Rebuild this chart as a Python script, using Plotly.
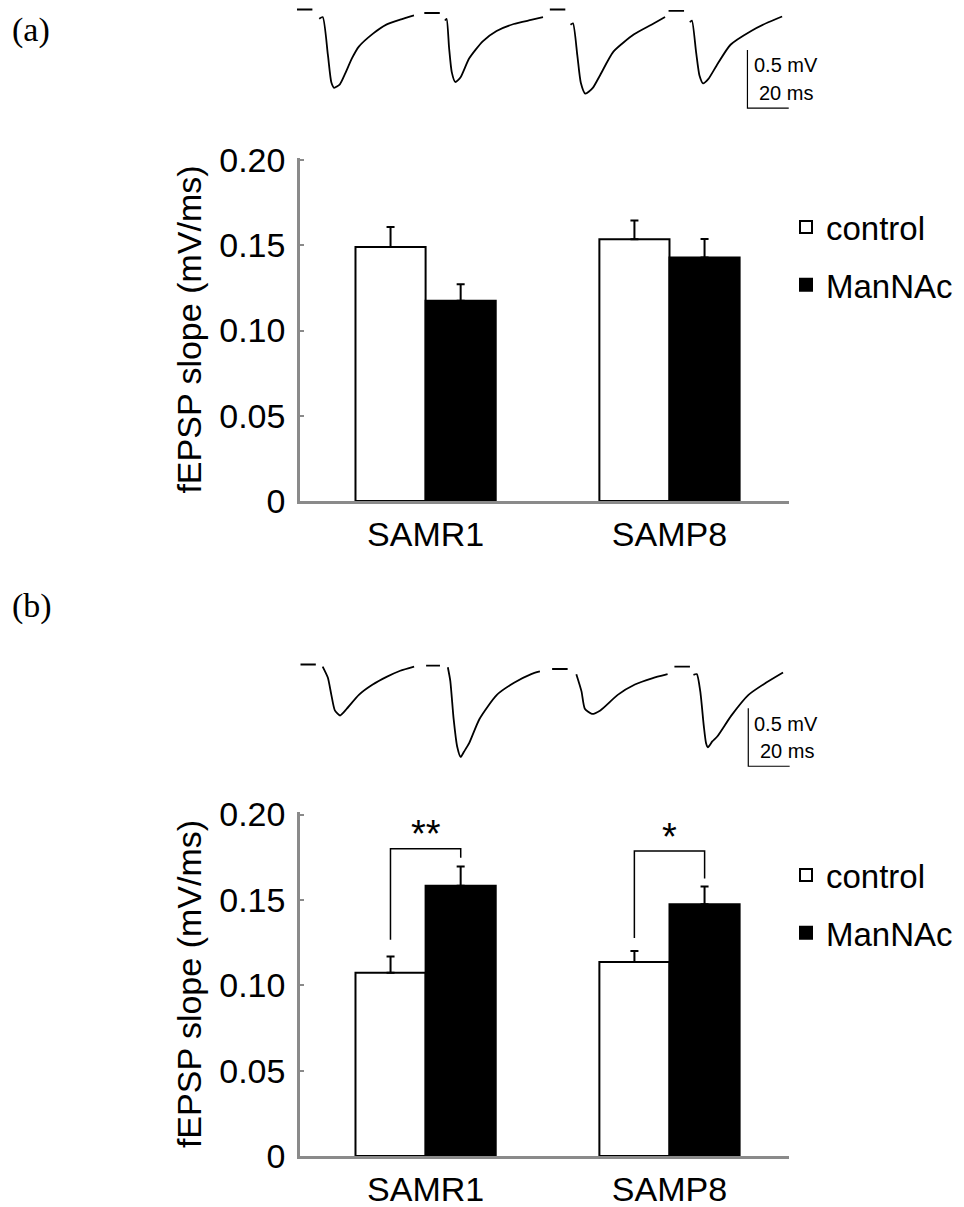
import plotly.graph_objects as go

# ---------------- data ----------------
groups = ["SAMR1", "SAMP8"]

# panel (a)
ctrl_a = [0.149, 0.1535]
ctrl_a_err = [0.0117, 0.0110]
man_a = [0.1174, 0.1429]
man_a_err = [0.0097, 0.0108]

# panel (b)
ctrl_b = [0.1073, 0.1137]
ctrl_b_err = [0.0095, 0.0064]
man_b = [0.1583, 0.1474]
man_b_err = [0.0113, 0.0105]

# significance brackets in panel (b)
sig_labels = ["**", "*"]
bracket_left = [0.1266, 0.1277]
bracket_top = [0.1800, 0.1786]
bracket_right = [0.1747, 0.1626]

y_ticks = [0, 0.05, 0.10, 0.15, 0.20]
y_ticktext = ["0", "0.05", "0.10", "0.15", "0.20"]

# example fEPSP sweeps (time in ms, voltage in mV); None = blanked stimulus artifact
sweeps_a_t = [
    [0, 7.5, None, 10.8, 12.5, 15.0, 16.7, 18.0, 20.8, 23.3, 26.7, 30.0, 36.7, 43.3, 50.0, 56.7],
    [0, 7.5, None, 10.0, 10.8, 12.0, 13.3, 15.0, 17.5, 21.7, 28.3, 35.0, 43.3, 51.7, 57.5],
    [0, 7.5, None, 10.0, 11.2, 13.3, 15.0, 17.2, 20.8, 24.2, 30.8, 40.8, 49.2, 55.8],
    [0, 7.5, None, 10.3, 11.3, 13.3, 15.0, 16.7, 19.2, 23.3, 30.0, 40.0, 48.3, 55.0],
]
sweeps_a_v = [
    [0, 0, None, -0.080, -0.065, -0.390, -0.630, -0.675, -0.645, -0.556, -0.420, -0.320, -0.210, -0.130, -0.087, -0.050],
    [0, 0, None, -0.065, -0.050, -0.300, -0.510, -0.595, -0.557, -0.393, -0.244, -0.155, -0.095, -0.060, -0.036],
    [0, 0, None, -0.131, -0.119, -0.393, -0.631, -0.726, -0.676, -0.571, -0.363, -0.214, -0.131, -0.065],
    [0, 0, None, -0.098, -0.083, -0.351, -0.560, -0.625, -0.589, -0.470, -0.292, -0.173, -0.098, -0.048],
]
sweeps_a_t0 = [0, 61.7, 122.5, 180.0]
sweeps_a_base = [0, -0.030, 0, -0.012]

sweeps_b_t = [
    [0, 7.5, None, 10.8, 13.3, 15.0, 16.7, 19.2, 22.5, 28.3, 35.0, 41.7, 48.3, 55.0],
    [0, 6.7, None, 10.5, 11.7, 13.3, 15.0, 16.7, 18.3, 20.8, 25.8, 34.2, 42.5, 50.8, 55.0],
    [0, 7.5, None, 11.7, 14.2, 15.8, 19.2, 23.3, 31.7, 40.0, 48.3, 55.8],
    [0, 7.5, None, 9.2, 10.8, 12.5, 14.2, 15.3, 16.2, 18.3, 20.8, 27.5, 35.8, 44.2, 52.5],
]
sweeps_b_v = [
    [0, 0, None, -0.018, -0.113, -0.262, -0.396, -0.440, -0.381, -0.262, -0.173, -0.107, -0.054, -0.018],
    [0, 0, None, -0.015, -0.134, -0.461, -0.699, -0.789, -0.744, -0.670, -0.461, -0.253, -0.149, -0.074, -0.051],
    [0, 0, None, -0.045, -0.193, -0.342, -0.387, -0.357, -0.223, -0.134, -0.080, -0.045],
    [0, 0, None, -0.071, -0.065, -0.214, -0.512, -0.661, -0.696, -0.646, -0.601, -0.423, -0.244, -0.140, -0.051],
]
sweeps_b_t0 = [0, 60.8, 121.7, 180.8]
sweeps_b_base = [0, -0.009, -0.039, -0.018]

scalebar_t = [218.2, 216.5]      # ms position of the scale bar in (a), (b)
scalebar_top = [-0.35, -0.378]   # mV
scalebar_mv = 0.5
scalebar_ms = 20

# ---------------- figure ----------------
# the page body keeps an 8 px margin, so the figure is 8 px smaller than the window
OFF = 8
W, H = 964 - OFF, 1207 - OFF
FONT = "Liberation Sans, Arial, sans-serif"
GRAY = "#8a8a8a"

def px_x(p):
    return (p - OFF) / W

def px_y(p):
    return 1 - (p - OFF) / H

fig = go.Figure()

def add_bars(ctrl, ctrl_err, man, man_err, xa, ya, leg):
    fig.add_trace(go.Bar(
        x=groups, y=ctrl, name="control", xaxis=xa, yaxis=ya, legend=leg,
        legendgroup=leg + "c",
        marker=dict(color="white", line=dict(color="black", width=2)),
        error_y=dict(type="data", symmetric=False, array=ctrl_err,
                     arrayminus=[0] * len(ctrl_err), color="black",
                     thickness=2, width=4),
    ))
    fig.add_trace(go.Bar(
        x=groups, y=man, name="ManNAc", xaxis=xa, yaxis=ya, legend=leg,
        legendgroup=leg + "m",
        marker=dict(color="black", line=dict(color="black", width=2)),
        error_y=dict(type="data", symmetric=False, array=man_err,
                     arrayminus=[0] * len(man_err), color="black",
                     thickness=2, width=4),
    ))

add_bars(ctrl_a, ctrl_a_err, man_a, man_a_err, "x", "y", "legend")
add_bars(ctrl_b, ctrl_b_err, man_b, man_b_err, "x2", "y2", "legend2")

def add_sweeps(ts, vs, t0s, bases, xa, ya):
    for t, v, t0, b in zip(ts, vs, t0s, bases):
        fig.add_trace(go.Scatter(
            x=[None if tt is None else tt + t0 for tt in t],
            y=[None if vv is None else vv + b for vv in v],
            mode="lines", line=dict(color="black", width=1.8, shape="spline", smoothing=0.6),
            xaxis=xa, yaxis=ya, showlegend=False, hoverinfo="skip", connectgaps=False,
        ))

add_sweeps(sweeps_a_t, sweeps_a_v, sweeps_a_t0, sweeps_a_base, "x3", "y3")
add_sweeps(sweeps_b_t, sweeps_b_v, sweeps_b_t0, sweeps_b_base, "x4", "y4")

# scale bars
for sb_t, sb_top, xa, ya in [(scalebar_t[0], scalebar_top[0], "x3", "y3"),
                             (scalebar_t[1], scalebar_top[1], "x4", "y4")]:
    fig.add_trace(go.Scatter(
        x=[sb_t, sb_t, sb_t + scalebar_ms],
        y=[sb_top, sb_top - scalebar_mv, sb_top - scalebar_mv],
        mode="lines", line=dict(color="black", width=1.2),
        xaxis=xa, yaxis=ya, showlegend=False, hoverinfo="skip", cliponaxis=False,
    ))
    fig.add_annotation(x=sb_t + 2.0, y=sb_top - 0.132, xref=xa, yref=ya, text="0.5 mV",
                       showarrow=False, xanchor="left", yanchor="middle",
                       font=dict(family=FONT, size=20, color="black"))
    fig.add_annotation(x=sb_t + 4.5, y=sb_top - 0.372, xref=xa, yref=ya, text="20 ms",
                       showarrow=False, xanchor="left", yanchor="middle",
                       font=dict(family=FONT, size=20, color="black"))

# significance brackets
for i, lab in enumerate(sig_labels):
    xl, xr = i - 0.144, i + 0.144
    fig.add_shape(type="path",
                  path=f"M {xl},{bracket_left[i]} L {xl},{bracket_top[i]} L {xr},{bracket_top[i]} L {xr},{bracket_right[i]}",
                  xref="x2", yref="y2", line=dict(color="black", width=1.5))
    fig.add_annotation(x=i, y=bracket_top[i] + 0.0085, xref="x2", yref="y2", text=lab,
                       showarrow=False, xanchor="center", yanchor="middle",
                       font=dict(family=FONT, size=38, color="black"))

# panel labels
SERIF = "Liberation Serif, Times New Roman, serif"
fig.add_annotation(x=px_x(10), y=px_y(30), xref="paper", yref="paper", text="(a)",
                   showarrow=False, xanchor="left", yanchor="middle",
                   font=dict(family=SERIF, size=34, color="black"))
fig.add_annotation(x=px_x(10), y=px_y(606), xref="paper", yref="paper", text="(b)",
                   showarrow=False, xanchor="left", yanchor="middle",
                   font=dict(family=SERIF, size=34, color="black"))

x_dom = [px_x(300), px_x(789)]
x_range = [-0.515, 1.49]

def xaxis_cfg():
    return dict(domain=x_dom, range=x_range, type="category", automargin=False,
                showline=True, linecolor=GRAY, linewidth=2.5,
                ticks="", showgrid=False, zeroline=False,
                tickfont=dict(family=FONT, size=34, color="black"),
                ticklabelstandoff=1)

def yaxis_cfg(dom, rng):
    return dict(domain=dom, range=rng, automargin=False,
                showline=True, linecolor=GRAY, linewidth=2.5,
                ticks="inside", ticklen=4, tickwidth=2, tickcolor=GRAY,
                tickvals=y_ticks, ticktext=y_ticktext, showgrid=False, zeroline=False,
                tickfont=dict(family=FONT, size=34, color="black"),
                ticklabelstandoff=5,
                title=dict(text="fEPSP slope (mV/ms)", standoff=8,
                           font=dict(family=FONT, size=34, color="black")))

def yaxis_right(over, anchor, rng, dom):
    return dict(overlaying=over, anchor=anchor, side="right", range=rng, domain=dom,
                automargin=False, showline=False, ticks="inside", ticklen=2, tickwidth=2,
                tickcolor="#b0b0b0", tickvals=y_ticks, showticklabels=False,
                showgrid=False, zeroline=False)

ya_dom = [px_y(501), px_y(158)]
ya_rng = [0, 0.2012]
yb_dom = [px_y(1156), px_y(812)]
yb_rng = [0, 0.2015]

legend_common = dict(xanchor="left", yanchor="top", bgcolor="rgba(0,0,0,0)",
                     font=dict(family=FONT, size=33, color="black"),
                     tracegroupgap=12, itemclick=False, itemdoubleclick=False)

fig.update_layout(
    width=W, height=H,
    margin=dict(l=0, r=0, t=0, b=0, pad=0, autoexpand=False),
    paper_bgcolor="white", plot_bgcolor="white",
    barmode="group", bargap=0.425, bargroupgap=0,
    xaxis=dict(anchor="y", **xaxis_cfg()),
    yaxis=dict(anchor="x", **yaxis_cfg(ya_dom, ya_rng)),
    xaxis2=dict(anchor="y2", **xaxis_cfg()),
    yaxis2=dict(anchor="x2", **yaxis_cfg(yb_dom, yb_rng)),
    yaxis5=yaxis_right("y", "x", ya_rng, ya_dom),
    yaxis6=yaxis_right("y2", "x2", yb_rng, yb_dom),
    xaxis3=dict(domain=[px_x(296.9), px_x(813.1)], range=[0, 250], visible=False,
                anchor="y3", automargin=False),
    yaxis3=dict(domain=[px_y(110.5), 1], range=[-0.871, 0.013], visible=False,
                anchor="x3", automargin=False),
    xaxis4=dict(domain=[px_x(300.3), px_x(817.6)], range=[0, 250], visible=False,
                anchor="y4", automargin=False),
    yaxis4=dict(domain=[px_y(768.8), px_y(658.7)], range=[-0.9, 0.05], visible=False,
                anchor="x4", automargin=False),
    legend=dict(x=px_x(786), y=px_y(199), **legend_common),
    legend2=dict(x=px_x(786), y=px_y(847), **legend_common),
    showlegend=True,
)

fig.write_html("out.html", config={"displayModeBar": False})
